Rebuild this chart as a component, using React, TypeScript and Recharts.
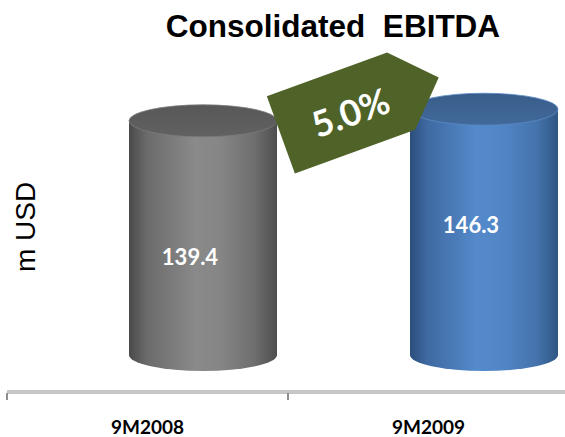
import { BarChart, Bar, XAxis, YAxis, LabelList } from "recharts";

const periods = ["9M2008", "9M2009"];
const ebitda = [139.4, 146.3];
const growthLabel = "5.0%";
const title = "Consolidated  EBITDA";
const unitLabel = "m USD";

const data = periods.map((period, i) => ({ period, value: ebitda[i] }));

const WIDTH = 565;
const HEIGHT = 437;
const MARGIN = { top: 56, right: -4, bottom: 0, left: 7 };
const BAND = (WIDTH - MARGIN.left - MARGIN.right) / periods.length;

// 3D look: bars sit back on the floor, shifted right/up from the axis
const DEPTH_X = 55;
const DEPTH_Y = 37;
const RY = 16;
const LABEL_DY = [27, 1];

const palettes = [
  {
    side: ["#4a4a4a", "#6b6b6b", "#8a8a8a", "#858585", "#6e6e6e", "#4e4e4e"],
    top: ["#585858", "#616161"],
    rim: "#7a7a7a",
  },
  {
    side: ["#2c4f7c", "#3f6aa2", "#548acb", "#5186c6", "#4574ad", "#2f5683"],
    top: ["#385d8a", "#41699a"],
    rim: "#5b8bc6",
  },
];
const stopAt = [0, 0.12, 0.45, 0.62, 0.85, 1];

type ShapeProps = {
  x?: number;
  y?: number;
  width?: number;
  height?: number;
  index?: number;
};

const Cylinder = ({ x = 0, y = 0, width = 0, height = 0, index = 0 }: ShapeProps) => {
  const pal = palettes[index % palettes.length];
  const left = x + DEPTH_X;
  const top = y - DEPTH_Y;
  const base = y + height - DEPTH_Y;
  const rx = width / 2;
  const sideId = `cyl-side-${index}`;
  const topId = `cyl-top-${index}`;
  return (
    <g>
      <defs>
        <linearGradient id={sideId} x1="0" y1="0" x2="1" y2="0">
          {pal.side.map((c, i) => (
            <stop key={i} offset={stopAt[i]} stopColor={c} />
          ))}
        </linearGradient>
        <linearGradient id={topId} x1="0" y1="0" x2="0" y2="1">
          <stop offset="0" stopColor={pal.top[0]} />
          <stop offset="1" stopColor={pal.top[1]} />
        </linearGradient>
      </defs>
      <path
        d={`M${left},${top} L${left},${base} A${rx},${RY} 0 0 0 ${left + width},${base} L${left + width},${top} Z`}
        fill={`url(#${sideId})`}
      />
      <ellipse
        cx={left + rx}
        cy={top}
        rx={rx}
        ry={RY}
        fill={`url(#${topId})`}
        stroke={pal.rim}
        strokeWidth={0.8}
      />
    </g>
  );
};

const ValueLabel = (props: any) => {
  const { x = 0, y = 0, width = 0, height = 0, index = 0, value } = props;
  const top = y - DEPTH_Y;
  const base = y + height - DEPTH_Y;
  return (
    <text
      x={x + DEPTH_X + width / 2 - 13}
      y={(top + base) / 2 + LABEL_DY[index]}
      textAnchor="middle"
      fill="#ffffff"
      fontFamily="Lato"
      fontWeight={700}
      fontSize={22}
    >
      {value}
    </text>
  );
};

const AxisTick = (props: any) => {
  const { x, y, payload, index } = props;
  const half = BAND / 2;
  return (
    <g>
      <line x1={x - half} x2={x - half} y1={y + 1} y2={y + 8} stroke="#8f8f8f" strokeWidth={2} />
      {index === periods.length - 1 && (
        <line x1={x + half} x2={x + half} y1={y + 1} y2={y + 8} stroke="#8f8f8f" strokeWidth={2} />
      )}
      <text
        x={x}
        y={y + 42}
        textAnchor="middle"
        fill="#000"
        fontFamily="Lato"
        fontWeight={700}
        fontSize={19}
      >
        {payload.value}
      </text>
    </g>
  );
};

export default function App() {
  return (
    <div
      style={{
        position: "absolute",
        left: 0,
        top: 0,
        width: WIDTH,
        height: HEIGHT,
        background: "#fff",
        overflow: "hidden",
      }}
    >
      <BarChart width={WIDTH} height={HEIGHT} data={data} margin={MARGIN}>
        <XAxis
          dataKey="period"
          height={45}
          axisLine={{ stroke: "#c6c6c6", strokeWidth: 4 }}
          tickLine={false}
          tickSize={0}
          tickMargin={0}
          tick={<AxisTick />}
          interval={0}
        />
        <YAxis hide domain={[0, 200]} />
        <Bar
          dataKey="value"
          barSize={148}
          shape={<Cylinder />}
          isAnimationActive={false}
        >
          <LabelList dataKey="value" content={<ValueLabel />} />
        </Bar>
      </BarChart>
      <svg
        width={WIDTH}
        height={HEIGHT}
        style={{ position: "absolute", left: 0, top: 0, pointerEvents: "none" }}
      >
        <text
          x={333}
          y={37}
          textAnchor="middle"
          fontFamily="Liberation Sans"
          fontWeight={700}
          fontSize={31.5}
          fill="#000"
          style={{ whiteSpace: "pre" }}
        >
          {title}
        </text>
        <text
          transform="translate(35,227) rotate(-90)"
          textAnchor="middle"
          fontFamily="Liberation Sans"
          fontSize={28}
          fill="#000"
        >
          {unitLabel}
        </text>
        <g transform="translate(341,113) rotate(-20)">
          <polygon points="-64,-41 64,-41 104,0 64,41 -64,41" fill="#4f6228" />
          <text
            x={9}
            y={2}
            textAnchor="middle"
            dominantBaseline="central"
            fill="#ffffff"
            fontFamily="Lato"
            fontWeight={700}
            fontSize={36}
          >
            {growthLabel}
          </text>
        </g>
      </svg>
    </div>
  );
}
